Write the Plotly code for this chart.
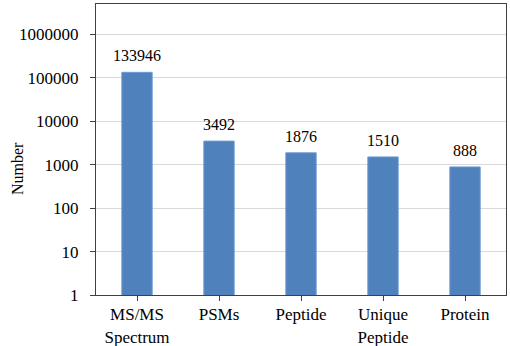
import math
import plotly.graph_objects as go

categories = ["MS/MS<br>Spectrum", "PSMs", "Peptide", "Unique<br>Peptide", "Protein"]
values = [133946, 3492, 1876, 1510, 888]
y_tickvals = [1, 10, 100, 1000, 10000, 100000, 1000000]
y_ticktext = ["1", "10", "100", "1000", "10000", "100000", "1000000"]

FONT = "Liberation Serif, Times New Roman, serif"
FS = 17

fig = go.Figure()
fig.add_trace(go.Bar(
    x=categories, y=values,
    marker=dict(color="#4F81BD", line=dict(color="#6C9AD4", width=1)),
    width=0.37,
))

for c, v in zip(categories, values):
    fig.add_annotation(x=c, y=math.log10(v), text=str(v), showarrow=False,
                       yanchor="bottom", yshift=6,
                       font=dict(family=FONT, size=16, color="black"))

fig.add_annotation(xref="paper", yref="paper",
                   x=(17 - 96) / 410, y=(295 - 169) / 291, text="Number",
                   xanchor="center", yanchor="middle",
                   showarrow=False, textangle=-90,
                   font=dict(family=FONT, size=16, color="black"))

fig.update_layout(
    width=510, height=346,
    margin=dict(l=96, r=4, t=4, b=51, autoexpand=False),
    paper_bgcolor="white", plot_bgcolor="white",
    showlegend=False,
    font=dict(family=FONT, size=FS, color="black"),
    xaxis=dict(showline=True, linecolor="#404040", linewidth=1, mirror=True,
               ticks="outside", ticklen=5, tickcolor="#404040", automargin=False,
               tickfont=dict(family=FONT, size=FS), showgrid=False,
               ticklabelstandoff=-1),
    yaxis=dict(type="log", range=[0, 6.7], showline=True, linecolor="#404040",
               linewidth=1, mirror=True, ticks="outside", ticklen=5, automargin=False,
               tickcolor="#404040", tickvals=y_tickvals, ticktext=y_ticktext,
               showgrid=True, gridcolor="#D9D9D9", gridwidth=1,
               tickfont=dict(family=FONT, size=FS), ticklabelstandoff=8),
)

fig.write_html("out.html", config={"displayModeBar": False},
               post_script="document.body.style.margin='0px';"
                           "document.body.style.overflow='hidden';")
